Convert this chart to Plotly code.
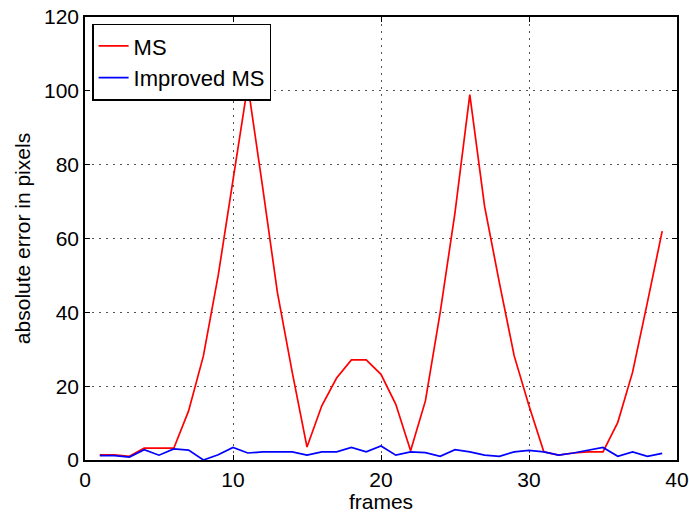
import plotly.graph_objects as go

frames = list(range(1, 40))
ms = [1.4, 1.4, 1.0, 3.2, 3.2, 3.2, 13.3, 28.2, 50, 76, 101.6, 74, 45.4, 23.8, 3.5,
      14.7, 22.2, 27.1, 27.1, 23.2, 15.1, 2.5, 16, 40, 67, 99, 68.7, 48, 28.2, 14.7,
      2.2, 1.3, 1.9, 2.2, 2.2, 10.2, 23.8, 42.7, 62]
improved_ms = [1.2, 1.2, 0.8, 2.8, 1.3, 3.0, 2.7, 0.0, 1.4, 3.4, 1.9, 2.2, 2.2, 2.2, 1.3,
               2.2, 2.2, 3.4, 2.2, 3.8, 1.3, 2.2, 2.0, 1.0, 2.8, 2.2, 1.3, 1.0, 2.2, 2.6,
               2.2, 1.3, 1.9, 2.6, 3.4, 1.0, 2.2, 1.0, 1.8]
x_ticks = [0, 10, 20, 30, 40]
y_ticks = [0, 20, 40, 60, 80, 100, 120]

font = "Liberation Sans, Arial, Helvetica, sans-serif"
fs = 21

fig = go.Figure()
fig.add_trace(go.Scatter(x=frames, y=ms, mode="lines", name="MS",
                         line=dict(color="#ff0000", width=1.7)))
fig.add_trace(go.Scatter(x=frames, y=improved_ms, mode="lines", name="Improved MS",
                         line=dict(color="#0000ff", width=1.7)))

axis_common = dict(
    showline=True, linecolor="black", linewidth=1.5, mirror="ticks",
    ticks="inside", ticklen=5, tickcolor="black", tickwidth=1,
    showgrid=True, gridcolor="#555555", griddash="1.5px,5.5px", gridwidth=1,
    zeroline=False, automargin=False,
    tickfont=dict(family=font, size=fs, color="black"),
)

fig.update_layout(
    width=689, height=513,
    margin=dict(l=85, r=12, t=17, b=53),
    paper_bgcolor="white", plot_bgcolor="white",
    font=dict(family=font, color="black"),
    showlegend=True,
    legend=dict(x=0.012, y=0.985, xanchor="left", yanchor="top",
                bordercolor="black", borderwidth=1.5, bgcolor="white",
                font=dict(family=font, size=22, color="black"),
                tracegroupgap=0),
    xaxis=dict(range=[0, 40], tickvals=x_ticks,
               title=dict(text="frames", font=dict(family=font, size=fs), standoff=2),
               **axis_common),
    yaxis=dict(range=[0, 120], tickvals=y_ticks,
               title=dict(text="absolute error in pixels", font=dict(family=font, size=fs), standoff=8),
               **axis_common),
)

fig.write_html("out.html", config={"displayModeBar": False},
               post_script="document.body.style.margin='0';")
